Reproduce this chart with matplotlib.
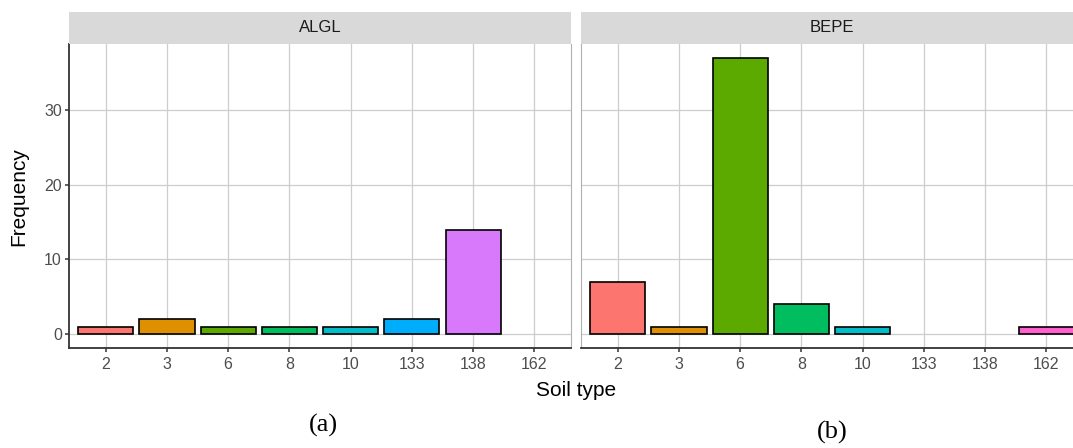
import matplotlib
matplotlib.use("Agg")
import matplotlib.pyplot as plt
import numpy as np

# Data
soil_types = ["2", "3", "6", "8", "10", "133", "138", "162"]
algl_counts = [1, 2, 1, 1, 1, 2, 14, 0]
bepe_counts = [7, 1, 37, 4, 1, 0, 0, 1]
facet_names = ["ALGL", "BEPE"]
panel_tags = ["(a)", "(b)"]
palette = ["#FC756F", "#DE9000", "#5CA900", "#00BE60",
           "#00BDC8", "#00ADFA", "#D878FA", "#FF5FCD"]
y_ticks = [0, 10, 20, 30]

W, H = 1073, 448
fig = plt.figure(figsize=(W / 100, H / 100), dpi=100)
fig.patch.set_facecolor("white")

sans = ["Liberation Sans", "DejaVu Sans"]
serif = ["Liberation Serif", "DejaVu Serif"]

panel_left_px = [69, 581]
panel_w_px = 502
panel_top_px, panel_bot_px = 44, 348
strip_top_px = 12

x = np.arange(len(soil_types))
ymax_data = max(max(algl_counts), max(bepe_counts))
ylo, yhi = -0.05 * ymax_data, 1.05 * ymax_data

for i, (name, counts) in enumerate(zip(facet_names, [algl_counts, bepe_counts])):
    l = panel_left_px[i] / W
    b = 1 - panel_bot_px / H
    w = panel_w_px / W
    h = (panel_bot_px - panel_top_px) / H
    ax = fig.add_axes([l, b, w, h])
    ax.set_facecolor("white")
    ax.set_axisbelow(True)
    ax.grid(True, color="#CDCDCD", linewidth=0.9)
    vals = np.array(counts)
    mask = vals > 0
    ax.bar(x[mask], vals[mask], width=0.9,
           color=[palette[k] for k in range(len(vals)) if mask[k]],
           edgecolor="black", linewidth=1.2, zorder=3)
    ax.set_xlim(-0.6, len(soil_types) - 0.4)
    ax.set_ylim(ylo, yhi)
    ax.set_xticks(x)
    ax.set_xticklabels(soil_types, fontfamily=sans, fontsize=11.5, color="#4D4D4D")
    ax.set_yticks(y_ticks)
    for s in ["top", "right"]:
        ax.spines[s].set_color("#B0B0B0")
        ax.spines[s].set_linewidth(0.8)
    ax.spines["top"].set_visible(False)
    ax.spines["bottom"].set_color("#333333")
    ax.spines["bottom"].set_linewidth(1.3)
    if i == 0:
        ax.spines["left"].set_color("#333333")
        ax.spines["left"].set_linewidth(1.3)
        ax.set_yticklabels([str(t) for t in y_ticks], fontfamily=sans,
                           fontsize=11.5, color="#4D4D4D")
        ax.tick_params(axis="y", length=3.2, width=1.1, color="#333333", pad=2)
    else:
        ax.spines["left"].set_color("#B0B0B0")
        ax.spines["left"].set_linewidth(0.8)
        ax.tick_params(axis="y", length=0, labelleft=False)
    ax.tick_params(axis="x", length=3.2, width=1.1, color="#333333", pad=3)

    # strip
    sax = fig.add_axes([l, 1 - panel_top_px / H, w, (panel_top_px - strip_top_px) / H])
    sax.set_facecolor("#D9D9D9")
    sax.set_xticks([]); sax.set_yticks([])
    for s in sax.spines.values():
        s.set_visible(False)
    sax.text(0.5, 0.5, name, ha="center", va="center", fontfamily=sans,
             fontsize=12, color="#1A1A1A", transform=sax.transAxes)

fig.text(19 / W, 1 - 197 / H, "Frequency", rotation=90, ha="center", va="center",
         fontfamily=sans, fontsize=15, color="black")
fig.text(576 / W, 1 - 391 / H, "Soil type", ha="center", va="center",
         fontfamily=sans, fontsize=15, color="black")
fig.text(323 / W, 1 - 425 / H, panel_tags[0], ha="center", va="center",
         fontfamily=serif, fontsize=19, color="black")
fig.text(832 / W, 1 - 432 / H, panel_tags[1], ha="center", va="center",
         fontfamily=serif, fontsize=19, color="black")

fig.savefig("out.png", dpi=100)
